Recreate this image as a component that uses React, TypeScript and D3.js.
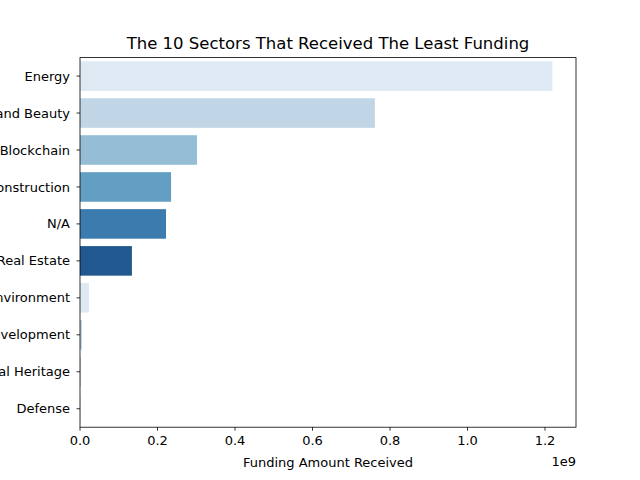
import * as d3 from "d3";

const sectors = ["Energy", "Health and Beauty", "Blockchain", "Construction", "N/A", "Real Estate", "Environment", "Software Development", "Cultural Heritage", "Defense"];
const funding = [1.219e9, 0.761e9, 0.302e9, 0.235e9, 0.222e9, 0.134e9, 0.023e9, 0.005e9, 0.0012e9, 0.0004e9];
const palette = ["#dee9f4", "#c0d6e7", "#95bdd5", "#639fc3", "#3b7bae", "#21588f"];
const xTicks = [0, 0.2e9, 0.4e9, 0.6e9, 0.8e9, 1.0e9, 1.2e9];

const W = 640, H = 480;
const M = { left: 80, right: 576, top: 57.6, bottom: 427.2 };
const FONT = "DejaVu Sans, sans-serif";

export default function App() {
  const x = d3.scaleLinear().domain([0, 1.28e9]).range([M.left, M.right]);
  const y = d3.scaleLinear().domain([-0.5, 9.5]).range([M.top, M.bottom]);
  const bh = y(0.4) - y(-0.4);
  return (
    <svg width={W} height={H} style={{ position: "absolute", left: 0, top: 0, background: "#fff" }} fontFamily={FONT}>
      {sectors.map((s, i) => (
        <g key={s}>
          <rect x={x(0)} y={y(i) - bh / 2} width={Math.max(0, x(funding[i]) - x(0))} height={bh} fill={palette[i % palette.length]} />
          <line x1={M.left - 3.5} x2={M.left} y1={y(i)} y2={y(i)} stroke="#000" strokeWidth={0.8} />
          <text x={M.left - 10} y={y(i)} dy="0.35em" textAnchor="end" fontSize={13}>{s}</text>
        </g>
      ))}
      {xTicks.map((t) => (
        <g key={t}>
          <line x1={x(t)} x2={x(t)} y1={M.bottom} y2={M.bottom + 3.5} stroke="#000" strokeWidth={0.8} />
          <text x={x(t)} y={M.bottom + 18} textAnchor="middle" fontSize={13}>{(t / 1e9).toFixed(1)}</text>
        </g>
      ))}
      <rect x={M.left} y={M.top} width={M.right - M.left} height={M.bottom - M.top} fill="none" stroke="#000" strokeWidth={0.8} />
      <text x={576} y={466} textAnchor="end" fontSize={13}>1e9</text>
      <text x={(M.left + M.right) / 2} y={467} textAnchor="middle" fontSize={13}>Funding Amount Received</text>
      <text x={(M.left + M.right) / 2} y={49} textAnchor="middle" fontSize={16.5}>The 10 Sectors That Received The Least Funding</text>
    </svg>
  );
}
